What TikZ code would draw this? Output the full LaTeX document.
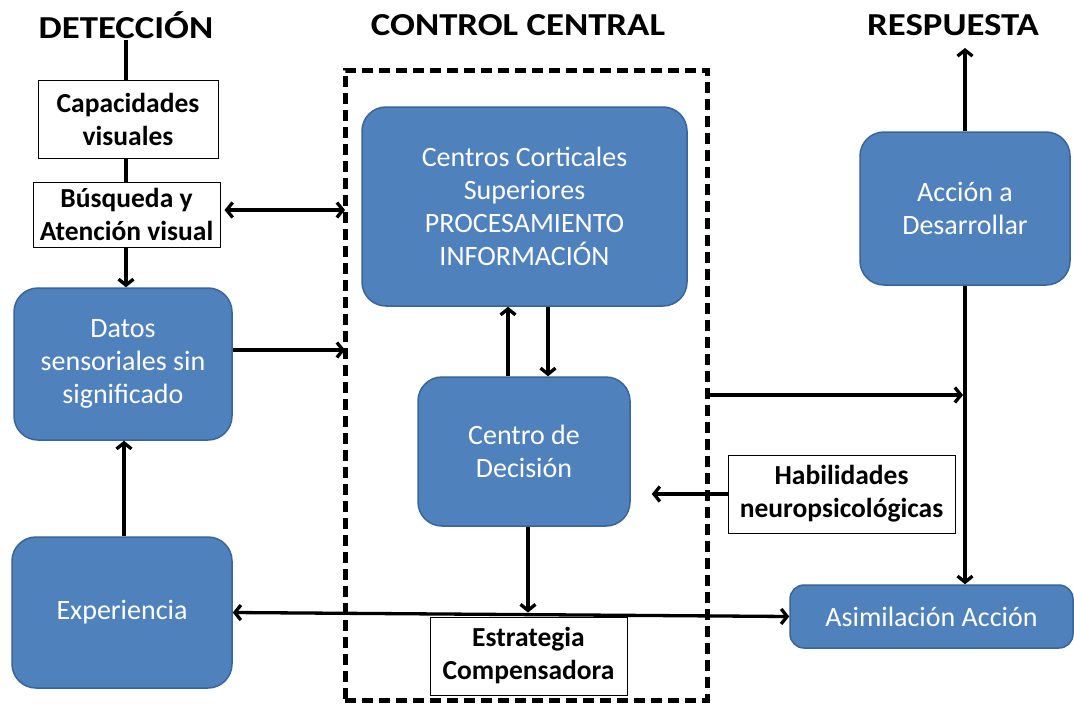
\documentclass[tikz,border=0pt]{standalone}
\usepackage{fontspec}
\setmainfont{Carlito}
\newfontfamily\titlefont[FakeStretch=1.15]{Carlito}
\usetikzlibrary{arrows.meta,calc}
\definecolor{bfill}{HTML}{4F81BD}
\definecolor{bdraw}{HTML}{3A6595}
\tikzset{
  bluebox/.style={draw=bdraw,line width=1.5pt,fill=bfill,rounded corners=24pt,text=white,align=center,
    font=\fontsize{28}{33}\selectfont,inner sep=0pt},
  whitebox/.style={draw=black,line width=1pt,fill=white,align=center,font=\bfseries\fontsize{27.5}{33}\selectfont,inner sep=0pt},
  titlenode/.style={font=\titlefont\bfseries\fontsize{32}{36}\selectfont,inner sep=1pt},
  conn/.style={line width=3.3pt,draw=black},
  arr/.style={conn,-{Straight Barb[length=6pt,width=15pt,line width=3.3pt]}},
  darr/.style={conn,{Straight Barb[length=6pt,width=15pt,line width=3.3pt]}-{Straight Barb[length=6pt,width=15pt,line width=3.3pt]}},
}
\begin{document}
\begin{tikzpicture}[x=1pt,y=-1pt]
\useasboundingbox[fill=white] (0,0) rectangle (1074,704);
% titles
\node[titlenode] (det) at (126,25) {DETECCIÓN};
\node[titlenode] (cc) at (518,25) {CONTROL CENTRAL};
\node[titlenode] (resp) at (953,25) {RESPUESTA};
% dashed frame
\node[draw=black,line width=5pt,dash pattern=on 11pt off 6pt,minimum width=362pt,minimum height=630pt,inner sep=0pt] (frame) at (526,385) {};
% left column
\node[whitebox,minimum width=180pt,minimum height=78pt] (cap) at (128,119) {Capacidades\\visuales};
\node[whitebox,minimum width=187pt,minimum height=65pt] (bus) at (126.5,214.5) {Búsqueda y\\Atención visual};
\node[bluebox,minimum width=218pt,minimum height=152pt] (datos) at (123,364) {Datos\\sensoriales sin\\significado};
\node[bluebox,minimum width=220pt,minimum height=151pt] (exp) at (122,612.5) {Experiencia};
% center
\node[bluebox,minimum width=325pt,minimum height=199pt] (cent) at (524.5,206.5) {Centros Corticales\\Superiores\\PROCESAMIENTO\\INFORMACIÓN};
\node[bluebox,minimum width=212pt,minimum height=149pt] (dec) at (524,451.5) {Centro de\\Decisión};
\node[whitebox,minimum width=197pt,minimum height=78pt] (est) at (528.5,656) {Estrategia\\Compensadora};
% right
\node[bluebox,minimum width=210pt,minimum height=153pt] (acc) at (965,208.5) {Acción a\\Desarrollar};
\node[bluebox,minimum width=283pt,minimum height=63pt,rounded corners=14pt] (asim) at (931.5,616.5) {Asimilación Acción};
\node[whitebox,minimum width=227pt,minimum height=78pt] (hab) at (841.5,494) {Habilidades\\neuropsicológicas};
\coordinate (top) at (965,48);
\coordinate (fl1) at (345,210);
\coordinate (fl2) at (345,350);
\coordinate (fr) at (707,395);
% connectors
\draw[conn] (det.south) -- (det.south |- cap.north);
\draw[conn] (det.south |- cap.south) -- (det.south |- bus.north);
\draw[arr] (det.south |- bus.south) -- (det.south |- datos.north);
\draw[darr,shorten <=4pt] (bus.east |- fl1) -- (fl1);
\draw[arr] (datos.east |- fl2) -- (fl2);
\draw[arr] ([xshift=2pt]exp.north) -- ([xshift=2pt]exp.north |- datos.south);
\draw[arr] ([xshift=-16pt]dec.north) -- ([xshift=-16pt]dec.north |- cent.south);
\draw[arr] ([xshift=24pt]dec.north |- cent.south) -- ([xshift=24pt]dec.north);
\draw[arr,shorten >=4pt] ([xshift=4pt]dec.south) -- ([xshift=4pt]dec.south |- est.north);
\draw[arr] (acc.north) -- (top);
\draw[arr] (acc.south) -- (acc.south |- asim.north);
\draw[arr,shorten >=2pt] (fr) -- (acc.south |- fr);
\draw[arr,shorten >=21pt] (hab.west) -- (dec.east |- hab.west);
\draw[darr] (exp.east) -- (asim.west);
\end{tikzpicture}
\end{document}
